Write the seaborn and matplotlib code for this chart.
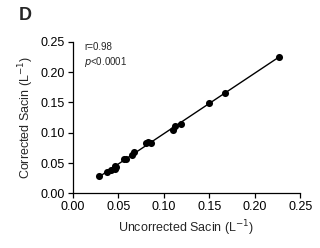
import pandas as pd
import matplotlib.pyplot as plt
import seaborn as sns

# Valores
sacin_sin_corregir = [0.029, 0.038, 0.042, 0.046, 0.047, 0.048, 0.056, 0.059,
                      0.065, 0.067, 0.081, 0.083, 0.086, 0.110, 0.112, 0.119,
                      0.150, 0.167, 0.227]
sacin_corregido = [0.028, 0.036, 0.039, 0.045, 0.041, 0.044, 0.057, 0.056,
                   0.064, 0.068, 0.083, 0.084, 0.083, 0.105, 0.111, 0.115,
                   0.149, 0.166, 0.224]
ticks = [0.00, 0.05, 0.10, 0.15, 0.20, 0.25]

df = pd.DataFrame({'x': sacin_sin_corregir, 'y': sacin_corregido})

sns.set_theme(style="ticks")
plt.rcParams['font.family'] = ['Liberation Sans', 'DejaVu Sans']

fig = plt.figure(figsize=(3.2, 2.48), dpi=100)
ax = fig.add_axes([0.227, 0.22, 0.711, 0.612])

# Dispersión + recta de regresión
sns.regplot(data=df, x='x', y='y', ci=None, truncate=True, ax=ax,
            scatter_kws=dict(s=26, color='black', alpha=1, linewidths=0, zorder=3),
            line_kws=dict(color='black', lw=1.0))

ax.set_xlim(0, 0.25)
ax.set_ylim(0, 0.25)
ax.set_xticks(ticks)
ax.set_yticks(ticks)
ax.set_xticklabels([f'{t:.2f}' for t in ticks])
ax.set_yticklabels([f'{t:.2f}' for t in ticks])
ax.tick_params(labelsize=9, length=3.5, width=0.9, pad=2, colors='black')
for s in ['left', 'bottom']:
    ax.spines[s].set_linewidth(0.9)
    ax.spines[s].set_color('black')
sns.despine(ax=ax)

ax.set_xlabel('Uncorrected Sacin (L$^{-1}$)', fontsize=9, labelpad=4)
ax.set_ylabel('Corrected Sacin (L$^{-1}$)', fontsize=9, labelpad=3)

ax.text(0.05, 1.0, 'r=0.98', transform=ax.transAxes, fontsize=7, va='top')
ax.text(0.05, 0.91, '$\\it{p}$<0.0001', transform=ax.transAxes, fontsize=7, va='top')

fig.text(0.06, 0.97, 'D', fontsize=13, fontweight='bold', va='top')

fig.savefig('out.png', dpi=100)
